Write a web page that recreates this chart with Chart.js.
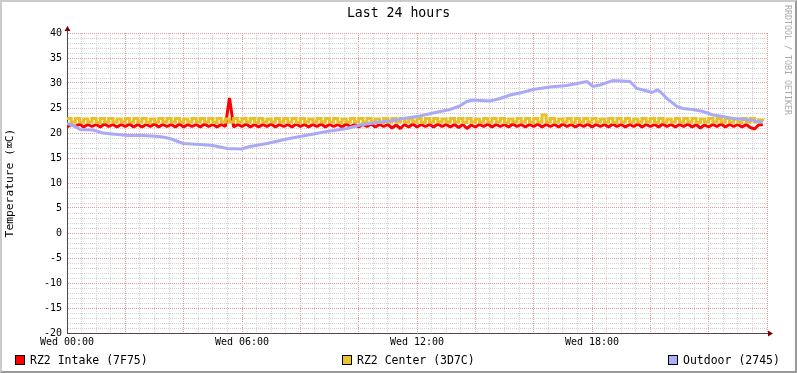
<!DOCTYPE html>
<html><head><meta charset="utf-8">
<script src="https://cdn.jsdelivr.net/npm/chart.js@4/dist/chart.umd.min.js"></script>
<style>
html,body{margin:0;padding:0;background:#fff;}
body{position:relative;width:797px;height:373px;overflow:hidden;font-family:'DejaVu Sans Mono',monospace;}
#frame{position:absolute;left:0;top:0;width:797px;height:373px;box-sizing:border-box;border-top:2px solid #CBCBCB;border-left:2px solid #CBCBCB;border-right:2px solid #999;border-bottom:2px solid #999;background:#fff;}
#c{position:absolute;left:0;top:0;}
#title{position:absolute;left:0;top:6px;width:797px;text-align:center;font-size:13.2px;line-height:14px;color:#000;}
.lg{position:absolute;top:353.5px;font-size:11.5px;line-height:12px;color:#000;white-space:pre;}
.bx{position:absolute;top:355px;width:8px;height:8px;border:1px solid #000;}
#wm{position:absolute;left:783px;top:5px;writing-mode:vertical-rl;font-size:8.3px;line-height:9px;color:#aaa;white-space:pre;}
</style></head>
<body>
<div id="frame"></div>
<canvas id="c" width="797" height="373"></canvas>
<div id="title">Last 24 hours</div>
<div id="wm">RRDTOOL / TOBI OETIKER</div>
<div class="bx" style="left:15px;background:#FF0000"></div><div class="lg" style="left:30px">RZ2 Intake (7F75)</div>
<div class="bx" style="left:342px;background:#EAC22C"></div><div class="lg" style="left:357px">RZ2 Center (3D7C)</div>
<div class="bx" style="left:668px;background:#AEAEF6"></div><div class="lg" style="left:683px">Outdoor (2745)</div>
<script>
// ---- data ----
const seriesNames = ['RZ2 Intake (7F75)', 'RZ2 Center (3D7C)', 'Outdoor (2745)'];
const xTickHours = [0, 6, 12, 18];
const xTickLabels = ['Wed 00:00', 'Wed 06:00', 'Wed 12:00', 'Wed 18:00'];
const yTickLabels = [40, 35, 30, 25, 20, 15, 10, 5, 0, -5, -10, -15, -20];

// Intake: samples evenly spaced over 24 h
const intakeTemps = [
  21.2,21.7,21.3,21.8,21.2,21.7,21.3,21.7,21.2,21.8,21.3,21.7,21.2,21.7,
  21.3,21.8,21.2,21.7,21.2,21.7,21.3,21.8,21.2,21.7,21.3,21.7,21.2,21.8,
  21.2,21.7,21.3,21.7,21.2,21.8,21.3,21.7,21.2,21.7,21.3,27.0,21.2,21.7,
  21.3,21.8,21.2,21.7,21.2,21.7,21.3,21.8,21.2,21.7,21.3,21.7,21.2,21.8,
  21.3,21.7,21.2,21.7,21.3,21.8,21.2,21.7,21.3,21.7,21.2,21.8,21.3,21.7,
  21.2,21.7,21.3,21.8,21.2,21.7,21.3,21.7,21.0,21.6,20.9,21.7,21.2,21.8,
  21.2,21.7,21.3,21.7,21.2,21.8,21.3,21.7,21.2,21.7,21.1,21.7,20.9,21.6,
  21.2,21.7,21.3,21.8,21.2,21.7,21.3,21.7,21.2,21.8,21.3,21.7,21.2,21.7,
  21.3,21.8,21.2,21.7,21.3,21.7,21.2,21.8,21.3,21.7,21.2,21.7,21.3,21.8,
  21.2,21.7,21.3,21.7,21.2,21.8,21.3,21.7,21.2,21.7,21.3,21.8,21.2,21.7,
  21.3,21.7,21.2,21.8,21.3,21.7,21.2,21.7,21.3,21.8,21.2,21.7,21.0,21.6,
  21.2,21.7,21.3,21.8,21.2,21.7,21.3,21.7,21.2,21.7,21.1,20.8,21.6,21.7
];
// Center: samples evenly spaced over 24 h
const centerTemps = [
  22.9,22.2,22.9,22.2,22.8,22.2,22.9,22.1,22.9,22.2,22.9,22.2,22.8,22.2,
  22.9,22.2,22.9,22.2,22.9,22.1,22.8,22.2,22.9,22.2,22.9,22.2,22.9,22.2,
  22.8,22.2,22.9,22.2,22.9,22.2,22.9,22.1,22.9,22.2,22.8,22.2,22.9,22.2,
  22.9,22.2,22.9,22.1,22.9,22.2,22.8,22.2,22.9,22.2,22.9,22.2,22.9,22.1,
  22.9,22.2,22.8,22.2,22.9,22.2,22.9,22.2,22.9,22.1,22.8,22.2,22.9,22.2,
  22.9,22.2,22.9,22.2,22.8,22.1,22.9,22.2,22.9,22.2,22.9,22.2,22.8,22.2,
  22.9,22.1,22.9,22.2,22.9,22.2,22.8,22.2,22.9,22.2,22.9,22.1,22.9,22.2,
  22.8,22.2,22.9,22.2,22.9,22.2,22.9,22.1,22.8,22.2,22.9,22.2,22.9,22.2,
  22.9,22.2,23.6,22.2,22.9,22.2,22.8,22.2,22.9,22.1,22.9,22.2,22.9,22.2,
  22.9,22.2,22.8,22.2,22.9,22.1,22.9,22.2,22.9,22.2,22.8,22.2,22.9,22.2,
  22.9,22.1,22.9,22.2,22.8,22.2,22.9,22.2,22.9,22.2,22.9,22.1,22.8,22.2,
  22.9,22.2,22.9,22.2,22.9,22.2,22.8,22.1,22.9,22.2,22.9,22.2,22.6,22.4
];
// Outdoor: readings at given hours
const outdoorHours = [0.00,0.21,0.45,0.89,1.23,2.06,2.61,3.19,3.53,3.98,4.56,5.01,5.49,6.00,6.27,6.86,7.54,7.99,8.91,9.60,10.05,10.63,11.18,11.66,12.10,12.55,13.13,13.47,13.71,13.89,14.50,14.85,15.19,15.53,15.98,16.56,17.14,17.66,17.83,18.03,18.27,18.72,19.30,19.54,19.89,20.06,20.23,20.33,20.57,20.91,21.12,21.46,21.81,22.15,22.49,22.83,23.42,23.86];
const outdoorTemps = [21.9,21.5,20.7,20.6,20.0,19.5,19.5,19.3,18.9,17.9,17.7,17.5,16.9,16.8,17.3,17.9,18.8,19.3,20.3,20.9,21.6,22.1,22.5,23.0,23.4,24.0,24.7,25.4,26.3,26.6,26.4,26.9,27.6,28.0,28.7,29.2,29.5,30.1,30.3,29.3,29.6,30.5,30.3,28.9,28.4,28.1,28.6,28.3,26.9,25.3,24.9,24.7,24.3,23.6,23.3,22.9,22.6,22.1];

// ---- chart ----
const FONT = 'DejaVu Sans Mono';
const MAJOR = '#E49C9C', MINOR = '#D2D2D2', AXIS = '#5a4646', ARROW = '#7F0000';
const even = (arr) => arr.map((v, i) => ({x: i * 24 / arr.length, y: v}));
const near = (a, b) => Math.abs(a - b) < 1e-6;

const axisArrows = {
  id: 'axisArrows',
  afterDraw(chart) {
    const {ctx, chartArea: a} = chart;
    ctx.save();
    ctx.strokeStyle = AXIS; ctx.lineWidth = 1;
    ctx.beginPath();
    ctx.moveTo(a.left + 0.5, a.top + 1); ctx.lineTo(a.left + 0.5, a.top - 4);
    ctx.moveTo(a.right - 1, a.bottom + 0.5); ctx.lineTo(a.right + 3, a.bottom + 0.5);
    ctx.stroke();
    ctx.fillStyle = ARROW;
    ctx.beginPath();
    ctx.moveTo(a.left + 0.5, a.top - 7); ctx.lineTo(a.left - 2.5, a.top - 2); ctx.lineTo(a.left + 3.5, a.top - 2);
    ctx.closePath(); ctx.fill();
    ctx.beginPath();
    ctx.moveTo(a.right + 6, a.bottom + 0.5); ctx.lineTo(a.right + 1, a.bottom - 2.5); ctx.lineTo(a.right + 1, a.bottom + 3.5);
    ctx.closePath(); ctx.fill();
    ctx.restore();
  }
};

new Chart(document.getElementById('c'), {
  type: 'line',
  data: {
    datasets: [
      {label: seriesNames[0], data: even(intakeTemps), borderColor: '#FF0000', borderWidth: 3, pointRadius: 0, stepped: false, tension: 0, borderJoinStyle: 'bevel', order: 2},
      {label: seriesNames[1], data: even(centerTemps), borderColor: '#E8C02A', borderWidth: 3, pointRadius: 0, stepped: true, order: 1},
      {label: seriesNames[2], data: outdoorHours.map((h, i) => ({x: h, y: outdoorTemps[i]})), borderColor: '#AAAAF4', borderWidth: 3, pointRadius: 0, order: 0}
    ]
  },
  options: {
    responsive: false, animation: false, events: [],
    layout: {padding: {top: 33, right: 30, left: 0, bottom: 0}},
    plugins: {legend: {display: false}, tooltip: {enabled: false}, title: {display: false}},
    scales: {
      x: {
        type: 'linear', min: 0, max: 24,
        afterFit: (s) => { s.height = 40; },
        ticks: {
          stepSize: 0.5, autoSkip: false, maxRotation: 0, padding: 3, color: '#000',
          font: {family: FONT, size: 10},
          callback: (v) => { const k = xTickHours.findIndex(h => near(h, v)); return k >= 0 ? xTickLabels[k] : ''; }
        },
        grid: {color: (c) => (c.tick && near(c.tick.value % 2, 0)) ? MAJOR : MINOR, lineWidth: 1, drawTicks: false},
        border: {color: AXIS, width: 1, dash: [1, 1]}
      },
      y: {
        min: -20, max: 40,
        afterFit: (s) => { s.width = 67; },
        ticks: {
          stepSize: 1, autoSkip: false, padding: 5, color: '#000',
          font: {family: FONT, size: 10},
          callback: (v) => yTickLabels.includes(v) ? String(v) : ''
        },
        grid: {color: (c) => (c.tick && c.tick.value % 5 === 0) ? MAJOR : MINOR, lineWidth: 1, drawTicks: false},
        border: {color: AXIS, width: 1, dash: [1, 1]},
        title: {display: true, text: 'Temperature (⌧C)', color: '#000', font: {family: FONT, size: 11.3}, padding: {top: 3, bottom: 0}}
      }
    }
  },
  plugins: [axisArrows]
});
</script>
</body></html>
